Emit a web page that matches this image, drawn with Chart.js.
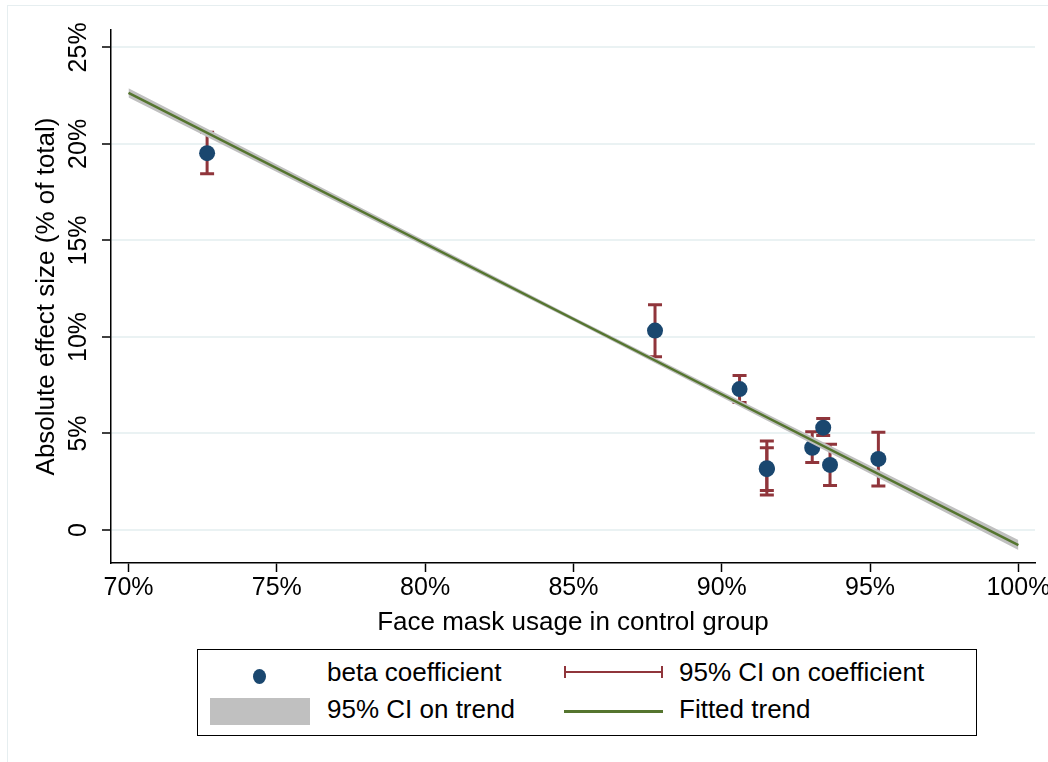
<!DOCTYPE html>
<html>
<head>
<meta charset="utf-8">
<script src="https://cdn.jsdelivr.net/npm/chart.js@4.4.0/dist/chart.umd.min.js"></script>
<style>
  html, body { margin: 0; padding: 0; background: #fff; }
  #wrap { position: relative; width: 1048px; height: 762px; overflow: hidden; font-family: "Liberation Sans", Arial, sans-serif; }
  #frame { position: absolute; left: 7px; top: 5px; width: 1060px; height: 770px; border: 1.5px solid #e6eef0; }
  #chart { position: absolute; left: 0; top: 0; }
  #legend { position: absolute; left: 197px; top: 649px; width: 778px; height: 85px; border: 1.5px solid #000; background: #fff; }
  .txt { position: absolute; font-size: 26px; line-height: 30px; color: #000; white-space: nowrap; }
  .dot { position: absolute; width: 13px; height: 15px; border-radius: 50%; background: #1a476f; }
  .band { position: absolute; background: #c0c0c0; }
  .rline { position: absolute; height: 2px; background: #90353b; }
  .cap { position: absolute; width: 2px; height: 12px; background: #90353b; }
  .gline { position: absolute; height: 3px; background: #55752f; }
</style>
</head>
<body>
<div id="wrap">
  <div id="frame"></div>
  <canvas id="chart" width="1048" height="762"></canvas>
  <div id="legend">
    <div class="dot" style="left:55px; top:19px;"></div>
    <div class="txt" style="left:129px; top:7px;">beta coefficient</div>
    <div class="rline" style="left:366px; top:21px; width:99px;"></div>
    <div class="cap" style="left:366px; top:16px;"></div>
    <div class="cap" style="left:463px; top:16px;"></div>
    <div class="txt" style="left:481px; top:7px;">95% CI on coefficient</div>
    <div class="band" style="left:12px; top:48px; width:100px; height:27px;"></div>
    <div class="txt" style="left:129px; top:44px;">95% CI on trend</div>
    <div class="gline" style="left:366px; top:60px; width:99px;"></div>
    <div class="txt" style="left:481px; top:44px;">Fitted trend</div>
  </div>
</div>
<script>
// face mask usage (%) and absolute effect size (%)
const maskUsage = [72.65, 87.75, 90.6, 91.52, 91.52, 93.05, 93.42, 93.65, 95.28];
const betaCoef  = [19.52, 10.33, 7.3, 3.15, 3.2, 4.26, 5.3, 3.37, 3.68];
const ciLow     = [18.45, 8.98, 6.6, 1.81, 2.04, 3.49, 4.89, 2.3, 2.28];
const ciHigh    = [20.6, 11.67, 8.0, 4.61, 4.26, 5.09, 5.77, 4.44, 5.06];

// fitted trend and its confidence band
const trendX    = [70, 85, 100];
const trendFit  = [22.64, 10.93, -0.78];
const trendLow  = [22.40, 10.83, -1.04];
const trendHigh = [22.88, 11.03, -0.52];

const xTicks = [70, 75, 80, 85, 90, 95, 100];
const yTicks = [0, 5, 10, 15, 20, 25];

const toPoints = (xs, ys) => xs.map((x, i) => ({x: x, y: ys[i]}));

const errorBars = {
    id: 'errorBars',
    beforeDatasetsDraw(chart) {
        const ctx = chart.ctx;
        const xs = chart.scales.x, ys = chart.scales.y;
        ctx.save();
        ctx.strokeStyle = '#90353b';
        ctx.lineWidth = 3;
        for (let i = 0; i < maskUsage.length; i++) {
            const px = xs.getPixelForValue(maskUsage[i]);
            const lo = ys.getPixelForValue(ciLow[i]);
            const hi = ys.getPixelForValue(ciHigh[i]);
            ctx.beginPath();
            ctx.moveTo(px, lo);
            ctx.lineTo(px, hi);
            ctx.moveTo(px - 7, lo);
            ctx.lineTo(px + 7, lo);
            ctx.moveTo(px - 7, hi);
            ctx.lineTo(px + 7, hi);
            ctx.stroke();
        }
        ctx.restore();
    }
};

// vertical y tick labels, the Stata way
const yLabels = {
    id: 'yLabels',
    afterDraw(chart) {
        const ctx = chart.ctx;
        const ys = chart.scales.y;
        ctx.save();
        ctx.font = '25px "Liberation Sans", Arial, sans-serif';
        ctx.fillStyle = '#000';
        ctx.textAlign = 'center';
        ctx.textBaseline = 'middle';
        ys.ticks.forEach(t => {
            ctx.save();
            ctx.translate(79, ys.getPixelForValue(t.value));
            ctx.rotate(-Math.PI / 2);
            ctx.fillText(t.value === 0 ? '0' : t.value + '%', 0, 0);
            ctx.restore();
        });
        ctx.restore();
    }
};

new Chart(document.getElementById('chart'), {
    type: 'scatter',
    data: {
        datasets: [
            {
                label: 'beta coefficient',
                data: toPoints(maskUsage, betaCoef),
                backgroundColor: '#1a476f',
                borderWidth: 0,
                pointRadius: 8,
                order: 3
            },
            {
                label: 'ci low',
                data: toPoints(trendX, trendLow),
                showLine: true,
                borderWidth: 0,
                pointRadius: 0,
                fill: false,
                order: 2
            },
            {
                label: '95% CI on trend',
                data: toPoints(trendX, trendHigh),
                showLine: true,
                borderWidth: 0,
                pointRadius: 0,
                backgroundColor: '#c0c0c0',
                fill: '-1',
                order: 2
            },
            {
                label: 'Fitted trend',
                data: toPoints(trendX, trendFit),
                showLine: true,
                borderColor: '#55752f',
                borderWidth: 2.5,
                pointRadius: 0,
                order: 1
            }
        ]
    },
    options: {
        responsive: false,
        animation: false,
        layout: { padding: { left: 0, right: 13, top: 30, bottom: 0 } },
        plugins: {
            legend: { display: false },
            tooltip: { enabled: false }
        },
        scales: {
            x: {
                type: 'linear',
                min: 69.41,
                max: 100.56,
                afterBuildTicks: s => { s.ticks = xTicks.map(v => ({value: v})); },
                afterFit: s => { s.height = 199; s.paddingLeft = 0; s.paddingRight = 0; },
                ticks: {
                    autoSkip: false,
                    maxRotation: 0,
                    padding: 1,
                    color: '#000',
                    font: { family: '"Liberation Sans", Arial, sans-serif', size: 25 },
                    callback: v => v + '%'
                },
                grid: { drawOnChartArea: false, tickLength: 9, tickColor: '#000', tickWidth: 1.5 },
                border: { color: '#000', width: 1.5 },
                title: {
                    display: true,
                    text: 'Face mask usage in control group',
                    color: '#000',
                    font: { family: '"Liberation Sans", Arial, sans-serif', size: 26 },
                    padding: { top: 0, bottom: 124 }
                }
            },
            y: {
                type: 'linear',
                min: -1.71,
                max: 25.9,
                afterBuildTicks: s => { s.ticks = yTicks.map(v => ({value: v})); },
                afterFit: s => { s.width = 111; s.paddingTop = 0; s.paddingBottom = 0; },
                ticks: { display: false },
                grid: { color: '#eaf2f3', lineWidth: 2, tickLength: 9, tickColor: '#000', tickWidth: 1.5 },
                border: { color: '#000', width: 1.5 },
                title: {
                    display: true,
                    text: 'Absolute effect size (% of total)',
                    color: '#000',
                    font: { family: '"Liberation Sans", Arial, sans-serif', size: 26 },
                    padding: { top: 31, bottom: 0 }
                }
            }
        }
    },
    plugins: [errorBars, yLabels]
});
</script>
</body>
</html>
